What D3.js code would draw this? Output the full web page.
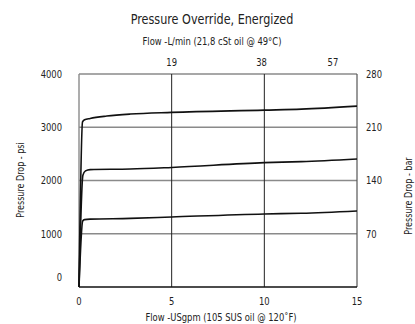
<!DOCTYPE html>
<html lang="en-US">
<head>
    <meta charset="utf-8">
    <title>Pressure Override, Energized</title>
    <script src="https://d3js.org/d3.v7.min.js"></script>
    <style>
        html,
        body {
            margin: 0;
            padding: 0;
            background: #fff;
        }

        svg text {
            font-family: "Liberation Sans Narrow", "DejaVu Sans Condensed", sans-serif;
            font-stretch: condensed;
            fill: #222;
        }

        .grid-h line {
            stroke: #8a8a8a;
            stroke-width: 1.4px;
        }

        .grid-v line {
            stroke: #222;
            stroke-width: 1px;
        }

        .curve {
            fill: none;
            stroke: #111;
            stroke-width: 1.6px;
        }
    </style>
</head>
<body>
    <div id="chart"></div>
    <script>
        // flow in USgpm, pressure drop in psi
        var flowLow = [0, 0.19, 0.3, 0.6, 1.5, 2.77, 5, 10, 12, 15];
        var psiHigh = [0, 3100, 3140, 3165, 3210, 3248, 3280, 3322, 3340, 3397];

        var flowMid = [0, 0.21, 0.35, 0.6, 2.77, 5, 10, 12, 15];
        var psiMid = [0, 2100, 2180, 2205, 2215, 2245, 2335, 2355, 2405];

        var flowBot = [0, 0.2, 0.3, 0.6, 2.77, 5, 10, 12, 15];
        var psiBot = [0, 1240, 1265, 1275, 1288, 1315, 1372, 1385, 1428];

        var bottomTicks = [0, 5, 10, 15];
        var leftTicks = [0, 1000, 2000, 3000, 4000];
        // bar labels sit on the psi gridlines
        var rightTickPsi = [1000, 2000, 3000, 4000];
        var rightTickLabels = ["70", "140", "210", "280"];
        // L/min labels, placed where they are drawn (gpm positions)
        var topTickPos = [5, 9.85, 13.7];
        var topTickLabels = ["19", "38", "57"];

        var width = 415,
            height = 324;
        var margin = { top: 74, right: 58, bottom: 37, left: 79 };

        var svg = d3.select("#chart").append("svg")
            .attr("width", width)
            .attr("height", height);

        var x = d3.scaleLinear().domain([0, 15]).range([margin.left, width - margin.right]);
        var y = d3.scaleLinear().domain([0, 4000]).range([height - margin.bottom, margin.top]);

        // squeeze text horizontally to mimic the narrow face of the original
        function narrow(sel, k) {
            sel.attr("transform", function() {
                var t = d3.select(this);
                var px = +t.attr("x"), py = +t.attr("y");
                return "translate(" + px + "," + py + ") scale(" + k + ",1) translate(" + (-px) + "," + (-py) + ")";
            });
        }

        // horizontal grid (grey)
        svg.append("g")
            .attr("class", "grid-h")
            .selectAll("line")
            .data([1000, 2000, 3000, 4000])
            .enter().append("line")
            .attr("x1", x(0))
            .attr("x2", x(15))
            .attr("y1", function(d) { return y(d); })
            .attr("y2", function(d) { return y(d); });

        // frame sides
        svg.append("line")
            .attr("x1", x(0)).attr("x2", x(0))
            .attr("y1", y(0)).attr("y2", y(4000))
            .attr("stroke", "#8a8a8a").attr("stroke-width", 1.4);
        svg.append("line")
            .attr("x1", x(15)).attr("x2", x(15))
            .attr("y1", y(0)).attr("y2", y(4000))
            .attr("stroke", "#555").attr("stroke-width", 1.2);

        // vertical grid (dark)
        svg.append("g")
            .attr("class", "grid-v")
            .selectAll("line")
            .data([5, 10])
            .enter().append("line")
            .attr("x1", function(d) { return x(d); })
            .attr("x2", function(d) { return x(d); })
            .attr("y1", y(0))
            .attr("y2", y(4000));

        // bottom axis line
        svg.append("line")
            .attr("x1", x(0)).attr("x2", x(15))
            .attr("y1", y(0)).attr("y2", y(0))
            .attr("stroke", "#111").attr("stroke-width", 1.4);

        // curves
        var line = d3.line()
            .x(function(d) { return x(d[0]); })
            .y(function(d) { return y(d[1]); })
            .curve(d3.curveMonotoneX);

        [[flowLow, psiHigh], [flowMid, psiMid], [flowBot, psiBot]].forEach(function(s) {
            var pts = s[0].map(function(f, i) { return [f, s[1][i]]; });
            svg.append("path")
                .attr("class", "curve")
                .attr("d", line(pts));
        });

        // left tick labels
        svg.append("g")
            .selectAll("text")
            .data(leftTicks)
            .enter().append("text")
            .attr("x", x(0) - 17)
            .attr("y", function(d) { return d == 0 ? y(d) - 10 : y(d); })
            .attr("dy", "0.35em")
            .attr("text-anchor", "end")
            .attr("font-size", 11)
            .text(function(d) { return d; })
            .call(narrow, 0.85);

        // right tick labels
        svg.append("g")
            .selectAll("text")
            .data(rightTickPsi)
            .enter().append("text")
            .attr("x", x(15) + 9)
            .attr("y", function(d) { return y(d); })
            .attr("dy", "0.35em")
            .attr("font-size", 11)
            .text(function(d, i) { return rightTickLabels[i]; })
            .call(narrow, 0.85);

        // bottom tick labels
        svg.append("g")
            .selectAll("text")
            .data(bottomTicks)
            .enter().append("text")
            .attr("x", function(d) { return x(d); })
            .attr("y", 301)
            .attr("dy", "0.35em")
            .attr("text-anchor", "middle")
            .attr("font-size", 11)
            .text(function(d) { return d; })
            .call(narrow, 0.85);

        // top tick labels
        svg.append("g")
            .selectAll("text")
            .data(topTickPos)
            .enter().append("text")
            .attr("x", function(d) { return x(d); })
            .attr("y", 62)
            .attr("dy", "0.35em")
            .attr("text-anchor", "middle")
            .attr("font-size", 11)
            .text(function(d, i) { return topTickLabels[i]; })
            .call(narrow, 0.85);

        // titles
        svg.append("text")
            .attr("x", 212).attr("y", 19).attr("dy", "0.35em")
            .attr("text-anchor", "middle")
            .attr("font-size", 14.5)
            .text("Pressure Override, Energized")
            .call(narrow, 0.86);

        svg.append("text")
            .attr("x", 212).attr("y", 41).attr("dy", "0.35em")
            .attr("text-anchor", "middle")
            .attr("font-size", 11)
            .text("Flow -L/min (21,8 cSt oil @ 49°C)")
            .call(narrow, 0.85);

        svg.append("text")
            .attr("x", 221).attr("y", 317).attr("dy", "0.35em")
            .attr("text-anchor", "middle")
            .attr("font-size", 11)
            .text("Flow -USgpm (105 SUS oil @ 120˚F)")
            .call(narrow, 0.85);

        svg.append("text")
            .attr("transform", "translate(20,180) rotate(-90) scale(0.85,1)")
            .attr("dy", "0.35em")
            .attr("text-anchor", "middle")
            .attr("font-size", 10.5)
            .text("Pressure Drop - psi");

        svg.append("text")
            .attr("transform", "translate(408,196) rotate(-90) scale(0.85,1)")
            .attr("dy", "0.35em")
            .attr("text-anchor", "middle")
            .attr("font-size", 10.5)
            .text("Pressure Drop - bar");
    </script>
</body>
</html>
